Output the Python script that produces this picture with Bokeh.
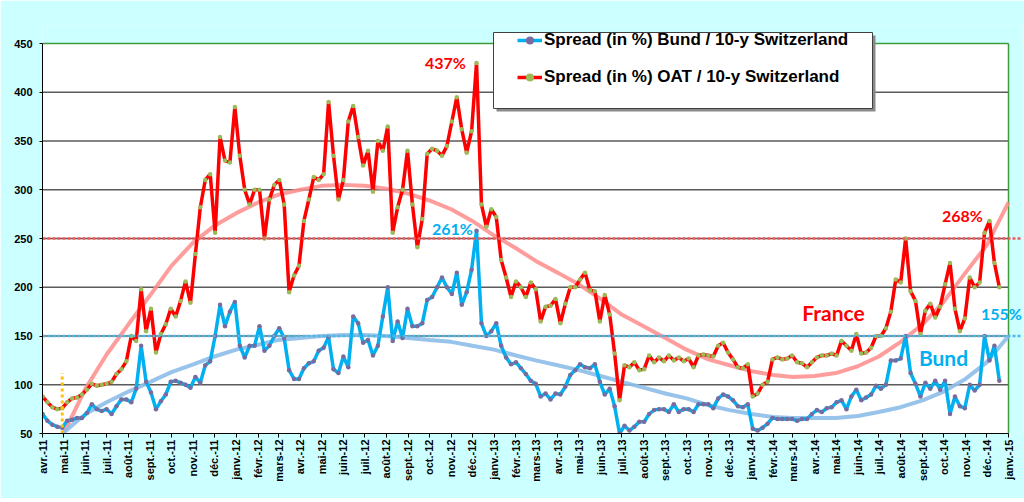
import numpy as np
import pandas as pd
from bokeh.plotting import figure
from bokeh.models import FixedTicker, Legend, LegendItem, Label, Range1d
from bokeh.embed import file_html
from bokeh.resources import INLINE

# ---------------- data ----------------
month_labels = [
    "avr.-11", "mai-11", "juin-11", "juil.-11", "août-11", "sept.-11", "oct.-11", "nov.-11", "déc.-11",
    "janv.-12", "févr.-12", "mars-12", "avr.-12", "mai-12", "juin-12", "juil.-12", "août-12", "sept.-12",
    "oct.-12", "nov.-12", "déc.-12",
    "janv.-13", "févr.-13", "mars-13", "avr.-13", "mai-13", "juin-13", "juil.-13", "août-13", "sept.-13",
    "oct.-13", "nov.-13", "déc.-13",
    "janv.-14", "févr.-14", "mars-14", "avr.-14", "mai-14", "juin-14", "juil.-14", "août-14", "sept.-14",
    "oct.-14", "nov.-14", "déc.-14",
    "janv.-15",
]
y_ticks = [50, 100, 150, 200, 250, 300, 350, 400, 450]

# weekly spreads, starting 1 April 2011
oat_values = [
    88, 82, 77, 75, 76, 82, 86, 87, 90, 95,
    101, 99, 100, 101, 103, 111, 116, 124, 150, 145,
    198, 155, 178, 133, 152, 162, 178, 170, 186, 206,
    184, 234, 282, 310, 316, 256, 354, 330, 328, 385,
    335, 300, 285, 300, 300, 250, 290, 305, 310, 285,
    195, 212, 222, 268, 290, 313, 310, 316, 390, 335,
    290, 310, 370, 386, 354, 325, 340, 298, 350, 340,
    365, 256, 282, 300, 340, 285, 241, 270, 337, 342,
    340, 335, 345, 370, 395, 362, 338, 360, 430, 285,
    262, 280, 272, 228, 210, 190, 206, 200, 190, 205,
    198, 165, 180, 181, 188, 163, 183, 200, 200, 208,
    215, 197, 196, 165, 192, 172, 132, 84, 120, 118,
    123, 115, 116, 130, 123, 128, 124, 130, 125, 128,
    124, 127, 118, 130, 131, 130, 129, 140, 143, 133,
    126, 118, 117, 121, 88, 91, 100, 103, 126, 128,
    126, 127, 130, 123, 122, 118, 123, 128, 130, 130,
    132, 130, 145, 140, 135, 152, 132, 133, 138, 150,
    150, 158, 175, 208, 205, 250, 196, 186, 152, 176,
    183, 169, 180, 203, 225, 178, 155, 168, 210, 200,
    205, 256, 268, 225, 200,
]
bund_values = [
    70, 63, 59, 57, 56, 63, 64, 66, 66, 71,
    80, 75, 73, 75, 70, 78, 85, 85, 82, 96,
    140, 103, 92, 75, 83, 90, 103, 104, 102, 100,
    97, 108, 102, 120, 124, 150, 182, 160, 175, 185,
    140, 128, 140, 140, 160, 135, 140, 150, 158, 148,
    115, 106, 106, 117, 122, 124, 135, 138, 149, 116,
    112, 129, 118, 170, 163, 143, 146, 130, 140, 170,
    200, 145, 165, 148, 178, 160, 160, 163, 187, 190,
    200, 210, 200, 193, 215, 182, 195, 218, 258, 163,
    150, 155, 163, 140, 128, 121, 123, 117, 111, 104,
    101, 88, 91, 85, 91, 90, 98, 110, 115, 121,
    118, 117, 121, 103, 90, 96, 78, 50, 58, 53,
    57, 62, 62, 70, 74, 75, 75, 72, 80, 72,
    75, 75, 72, 80, 80, 80, 76, 86, 90, 88,
    84, 78, 77, 80, 55, 53, 56, 60, 66, 65,
    65, 65, 65, 63, 65, 65, 70, 74, 72, 76,
    77, 82, 84, 75, 88, 95, 84, 87, 90, 99,
    96, 100, 125, 125, 127, 150, 112, 101, 88, 102,
    96, 104, 95, 104, 70, 88, 78, 76, 100, 94,
    100, 150, 125, 140, 104,
]
# polynomial trend lines, monthly from May 2011
oat_trend = [50, 96, 131, 162, 192, 222, 246, 263, 276, 287, 295, 300, 304, 305, 304,
             301, 296, 289, 280, 268, 253, 240, 227, 215, 203, 188, 172, 160, 148, 136,
             126, 120, 114, 110, 108, 109, 112, 119, 129, 144, 162, 185, 215, 243, 287]
bund_trend = [51, 70, 82, 93, 103, 113, 121, 129, 136, 141, 146, 148, 150, 151, 151,
              150, 148, 146, 144, 140, 136, 130, 125, 120, 115, 109, 103, 97, 91, 86,
              79, 74, 70, 67, 66, 66, 66, 68, 72, 77, 84, 93, 106, 123, 150]
oat_ref = 250
bund_ref = 150
marker_date = "2011-04-29"
marker_top = 112

# ---------------- geometry ----------------
start = pd.Timestamp("2011-04-01")
dates = pd.date_range(start, periods=len(oat_values), freq="7D")
month_dates = pd.date_range(start, periods=len(month_labels), freq="MS")
trend_dates = month_dates[1:1 + len(oat_trend)]


def ms(ts):
    return int(pd.Timestamp(ts).value // 10**6)


start_ms = ms(start)
axis_end_ms = ms(month_dates[-1])
ms_per_px = (axis_end_ms - start_ms) / (1008 - 42)


def px_x(px):
    return start_ms + (px - 42) * ms_per_px


def px_y(py):
    return 50 + (433 - py) / 0.975


CYAN = "#CCFFFF"
RED = "#FF0000"
BLUE = "#00B0F0"
GREEN = "#3C9A3C"

p = figure(width=1024, height=498, x_axis_type="datetime",
           x_range=Range1d(start_ms, px_x(1022)), y_range=Range1d(50, px_y(25)),
           output_backend="svg", toolbar_location=None, title=None,
           min_border_left=42, min_border_right=2, min_border_top=25, min_border_bottom=65)
p.background_fill_color = CYAN
p.border_fill_color = CYAN
p.outline_line_color = None
p.xgrid.visible = False
p.ygrid.visible = False

# axes
p.xaxis.ticker = FixedTicker(ticks=[ms(d) for d in month_dates])
p.xaxis.major_label_overrides = {ms(d): lab for d, lab in zip(month_dates, month_labels)}
p.xaxis.major_label_orientation = np.pi / 2
p.xaxis.bounds = (start_ms, axis_end_ms)
p.yaxis.ticker = FixedTicker(ticks=y_ticks)
p.yaxis.bounds = (y_ticks[0], y_ticks[-1])
for ax in (p.xaxis, p.yaxis):
    ax.minor_tick_line_color = None
    ax.axis_line_color = "black"
    ax.major_tick_line_color = "black"
    ax.major_tick_in = 0
    ax.major_label_text_font = "Liberation Sans"
    ax.major_label_text_font_style = "bold"
    ax.major_label_text_font_size = "11px"
    ax.major_label_text_color = "black"
p.xaxis.major_tick_out = 4
p.xaxis.major_label_standoff = 2
p.yaxis.major_tick_out = 3
p.yaxis.major_label_standoff = 7

# plot area + grid
p.quad(left=start_ms, right=axis_end_ms, bottom=y_ticks[0], top=y_ticks[-1],
       fill_color="white", line_color=None)
inner = y_ticks[1:-1]
p.segment(x0=[start_ms] * len(inner), x1=[axis_end_ms] * len(inner), y0=inner, y1=inner,
          line_color="#5A5A5A", line_width=1.3)
p.segment(x0=[start_ms, axis_end_ms], x1=[axis_end_ms, axis_end_ms],
          y0=[y_ticks[-1], y_ticks[0]], y1=[y_ticks[-1], y_ticks[-1]],
          line_color=GREEN, line_width=1.5)

# trends
p.line(trend_dates, oat_trend, line_color="#FF8C8C", line_width=4, line_alpha=0.85)
p.line(trend_dates, bund_trend, line_color="#8DBDE8", line_width=4, line_alpha=0.9)

# series
bund_line = p.line(dates, bund_values, line_color=BLUE, line_width=3.5)
bund_pts = p.scatter(dates, bund_values, size=4.5, fill_color="#7A6A9E", line_color=None)
oat_line = p.line(dates, oat_values, line_color=RED, line_width=3.5)
oat_pts = p.scatter(dates, oat_values, size=4.5, fill_color="#9BBB59", line_color=None)

# reference dotted lines
p.line([start_ms, px_x(1022)], [oat_ref, oat_ref], line_color="#F05A5A", line_width=2.5,
       line_dash="3 2")
p.line([start_ms, px_x(1022)], [bund_ref, bund_ref], line_color="#4DB8E8", line_width=2.5,
       line_dash="3 2")
p.line([ms(marker_date), ms(marker_date)], [y_ticks[0], marker_top], line_color="#FFC000",
       line_width=3, line_dash="3 3")

# legend box with shadow
p.quad(left=px_x(496), right=px_x(875), top=px_y(35), bottom=px_y(111),
       fill_color="#8A8A8A", line_color=None)
p.quad(left=px_x(493), right=px_x(872), top=px_y(32), bottom=px_y(108),
       fill_color="white", line_color="#404040", line_width=1)

legend = Legend(items=[
    LegendItem(label="Spread (in %) Bund / 10-y Switzerland", renderers=[bund_line, bund_pts]),
    LegendItem(label="Spread (in %) OAT / 10-y Switzerland", renderers=[oat_line, oat_pts]),
], location=(475, 346), padding=0, spacing=17, label_height=20, glyph_height=20,
    glyph_width=25, label_standoff=2, border_line_color=None, background_fill_alpha=0,
    label_text_font="Liberation Sans", label_text_font_style="bold",
    label_text_font_size="17px", label_text_color="black")
p.add_layout(legend)

# annotations
notes = [
    ("437%", 445, 62, RED, "16px"),
    ("261%", 452, 228, BLUE, "16px"),
    ("268%", 962, 215, RED, "16px"),
    ("155%", 1001, 313, BLUE, "16px"),
    ("France", 833, 312, RED, "21px"),
    ("Bund", 943, 357, BLUE, "21px"),
]
for txt, px, py, col, sz in notes:
    p.add_layout(Label(x=px_x(px), y=px_y(py), text=txt, text_color=col, text_font="Lato",
                       text_font_style="bold", text_font_size=sz, text_align="center",
                       text_baseline="middle"))

open("out.html", "w").write(file_html(p, INLINE))
